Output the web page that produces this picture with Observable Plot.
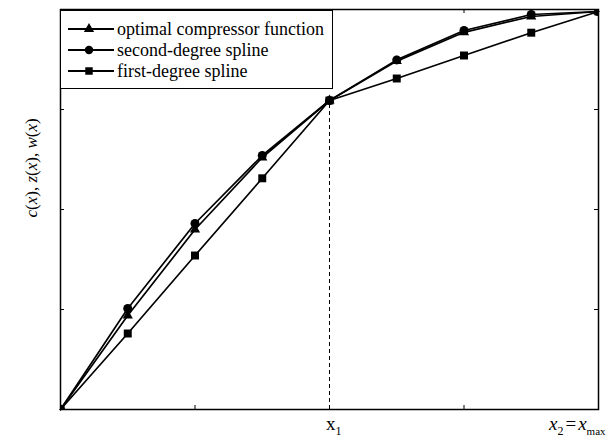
<!DOCTYPE html>
<html><head><meta charset="utf-8">
<script src="https://cdn.jsdelivr.net/npm/d3@7"></script>
<script src="https://cdn.jsdelivr.net/npm/@observablehq/plot@0.6"></script>
<style>
html,body{margin:0;padding:0;background:#fff;overflow:hidden;}
#wrap{position:relative;width:613px;height:438px;font-family:'Liberation Serif',serif;}
#wrap svg{overflow:visible;}
#legend{position:absolute;left:60px;top:10px;width:273px;height:79px;border:1.4px solid #000;box-sizing:border-box;background:#fff;}
.lrow{position:absolute;left:0;height:22px;width:270px;}
.lrow svg{position:absolute;left:4px;top:0;}
.lrow span{position:absolute;left:56px;top:0;line-height:22px;font-size:18px;white-space:nowrap;color:#000;font-family:'Liberation Serif',serif;}
</style></head><body><div id="wrap"></div>
<script>
// ---- data ----
const xs = [0, 1, 2, 3, 4, 5, 6, 7, 8];
const optimalValues = [0, 0.235, 0.45, 0.63, 0.7725, 0.871, 0.943, 0.9825, 0.995];
const secondDegreeValues = [0, 0.2525, 0.465, 0.635, 0.7725, 0.874, 0.9475, 0.9875, 0.995];
const firstDegreeValues = [0, 0.19, 0.385, 0.578, 0.7725, 0.8275, 0.885, 0.942, 0.995];
const seriesNames = ["optimal compressor function", "second-degree spline", "first-degree spline"];
const seriesSymbols = ["triangle", "circle", "square"];
const xTicks = [2, 4, 6];
const yTicks = [0.25, 0.5, 0.75];
const x1Value = 4, xMaxValue = 8;
const xLabelTicks = [x1Value, xMaxValue];
const yLabel = "c(x), z(x), w(x)";

// ---- build table ----
const seriesValues = [optimalValues, secondDegreeValues, firstDegreeValues];
const rows = [];
seriesNames.forEach((name, i) => xs.forEach((x, j) => rows.push({series: name, x, y: seriesValues[i][j]})));

const W = 613, H = 438, mt = 9, mb = 29, ml = 60, mr = 15;
const ph = H - mt - mb, pw = W - ml - mr;
const bySeries = name => rows.filter(d => d.series === name);
const FONT = "'Liberation Serif', serif";

const plot = Plot.plot({
  width: W, height: H, marginTop: mt, marginBottom: mb, marginLeft: ml, marginRight: mr,
  x: {domain: [0, 8], axis: null},
  y: {domain: [0, 1], axis: null},
  style: {fontFamily: FONT, background: "white", color: "black"},
  marks: [
    Plot.ruleX([x1Value], {x: d => d, y1: 0, y2: optimalValues[xs.indexOf(x1Value)], stroke: "black", strokeWidth: 1, strokeDasharray: "4,3"}),
    Plot.line(rows, {x: "x", y: "y", z: "series", stroke: "black", strokeWidth: 1.7}),
    Plot.dot(bySeries(seriesNames[2]), {x: "x", y: "y", symbol: seriesSymbols[2], r: 4.5, fill: "black", stroke: "none", clip: true}),
    Plot.dot(bySeries(seriesNames[0]), {x: "x", y: "y", symbol: seriesSymbols[0], r: 3.8, fill: "black", stroke: "none", clip: true}),
    Plot.dot(bySeries(seriesNames[1]), {x: "x", y: "y", symbol: seriesSymbols[1], r: 4.5, fill: "black", stroke: "none", clip: true}),
    Plot.frame({stroke: "black", strokeWidth: 1.5}),
    Plot.tickX(xTicks, {x: d => d, insetTop: ph - 4, stroke: "black", strokeWidth: 1}),
    Plot.tickX(xTicks, {x: d => d, insetBottom: ph - 4, stroke: "black", strokeWidth: 1}),
    Plot.tickY(yTicks, {y: d => d, insetRight: pw - 4, stroke: "black", strokeWidth: 1}),
    Plot.tickY(yTicks, {y: d => d, insetLeft: pw - 4, stroke: "black", strokeWidth: 1}),
    Plot.text(xLabelTicks, {x: d => d, frameAnchor: "bottom", text: d => "xl" + d, textAnchor: "start", fontSize: 19, fill: "black"}),
    Plot.text([yLabel], {frameAnchor: "left", rotate: -90, text: d => d, dx: -29, dy: 8, fontSize: 17, fill: "black"})
  ]
});

// ---- rich text patch ----
function rich(el, parts) {
  const s = d3.select(el);
  s.attr("dy", null).text(null);
  let shift = 0;
  parts.forEach(p => {
    const t = s.append("tspan").text(p.t);
    if (p.italic) t.attr("font-style", "italic");
    if (p.size) t.attr("font-size", p.size);
    const target = p.sub ? p.sub : 0;
    if (target !== shift) { t.attr("dy", target - shift); shift = target; }
    if (p.dx) t.attr("dx", p.dx);
  });
}
const xScale = plot.scale("x");
const texts = Array.from(plot.querySelectorAll("text"));
const baseY = mt + ph + 21;
texts.forEach(el => {
  const c = el.textContent;
  if (c === "xl" + x1Value) {
    rich(el, [{t: "x"}, {t: "1", size: 12, sub: 5}]);
    d3.select(el).attr("transform", null).attr("x", xScale.apply(x1Value) - 3).attr("y", baseY);
  } else if (c === "xl" + xMaxValue) {
    rich(el, [{t: "x", italic: true}, {t: "2", size: 12, sub: 5}, {t: "=", sub: 0, dx: 2}, {t: "x", italic: true, dx: 2}, {t: "max", size: 11, sub: 5}]);
    d3.select(el).attr("transform", null).attr("x", xScale.apply(xMaxValue) - 49).attr("y", baseY);
  } else if (c === yLabel) {
    rich(el, [{t: "c", italic: true}, {t: "("}, {t: "x", italic: true}, {t: "), "},
              {t: "z", italic: true}, {t: "("}, {t: "x", italic: true}, {t: "), "},
              {t: "w", italic: true}, {t: "("}, {t: "x", italic: true}, {t: ")"}]);
  }
});
texts.forEach(el => { if (el.textContent.startsWith("x") && el.parentNode.tagName === "g" && el.parentNode.getAttribute("transform") && !el.textContent.includes("(")) el.parentNode.removeAttribute("transform"); });

const wrap = document.getElementById("wrap");
wrap.appendChild(plot);

// ---- legend ----
const legend = d3.select(wrap).append("div").attr("id", "legend");
const rowCenters = [18, 39, 60];
const legendSizes = {triangle: 46, circle: 56, square: 56};
const symMap = {triangle: d3.symbolTriangle, circle: d3.symbolCircle, square: d3.symbolSquare};
seriesNames.forEach((name, i) => {
  const r = legend.append("div").attr("class", "lrow").style("top", (rowCenters[i] - 11) + "px");
  const s = r.append("svg").attr("width", 50).attr("height", 22);
  s.append("line").attr("x1", 3).attr("x2", 49).attr("y1", 11).attr("y2", 11).attr("stroke", "black").attr("stroke-width", 2);
  s.append("path").attr("d", d3.symbol(symMap[seriesSymbols[i]], legendSizes[seriesSymbols[i]])()).attr("transform", "translate(24,11)").attr("fill", "black");
  r.append("span").text(name);
});
</script>
</body></html>
